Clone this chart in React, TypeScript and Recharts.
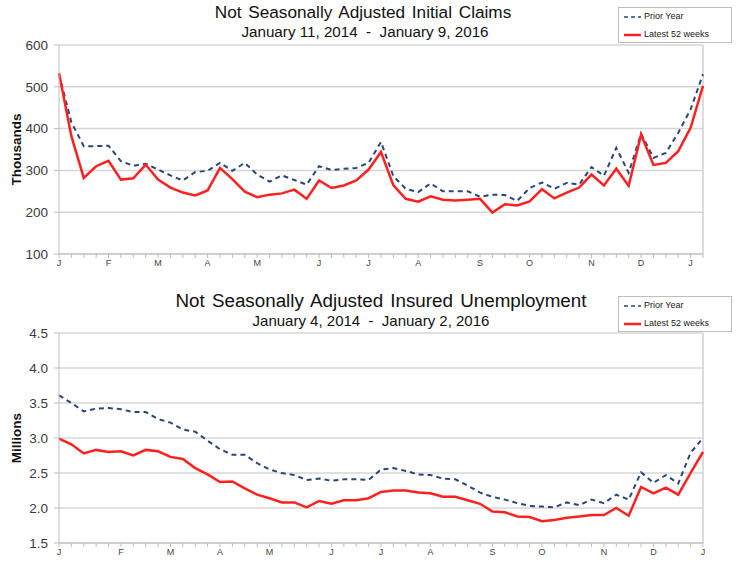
import React from 'react';
import { LineChart, Line, XAxis, YAxis, CartesianGrid, ReferenceLine } from 'recharts';

// weekly index 0..52 shared by both panels
const weeks = Array.from({ length: 53 }, (_, i) => i);

// Initial claims, thousands
const claimsLatest = [533, 382, 282, 310, 323, 278, 281, 314, 278, 259, 247, 240, 252, 306, 279, 249, 236, 242, 245, 254, 232, 276, 258, 264, 276, 302, 344, 264, 232, 225, 238, 230, 228, 230, 232, 199, 219, 216, 226, 255, 233, 247, 259, 290, 264, 304, 263, 386, 313, 318, 346, 402, 502];
const claimsPrior = [530, 415, 358, 358, 359, 322, 311, 316, 302, 288, 276, 296, 299, 318, 299, 318, 290, 273, 288, 277, 266, 310, 301, 304, 306, 318, 368, 286, 256, 248, 269, 250, 250, 250, 237, 242, 241, 227, 258, 271, 256, 270, 266, 308, 287, 354, 294, 388, 330, 342, 390, 446, 530];

// Insured unemployment, millions
const insuredLatest = [2.99, 2.91, 2.78, 2.83, 2.8, 2.81, 2.75, 2.83, 2.81, 2.73, 2.7, 2.57, 2.48, 2.37, 2.38, 2.28, 2.19, 2.14, 2.08, 2.08, 2.01, 2.1, 2.06, 2.11, 2.11, 2.14, 2.23, 2.25, 2.25, 2.22, 2.21, 2.16, 2.16, 2.11, 2.06, 1.95, 1.94, 1.88, 1.87, 1.81, 1.83, 1.86, 1.88, 1.9, 1.9, 2.0, 1.89, 2.3, 2.21, 2.29, 2.19, 2.5, 2.8];
const insuredPrior = [3.61, 3.5, 3.38, 3.42, 3.43, 3.41, 3.37, 3.37, 3.27, 3.22, 3.12, 3.09, 2.96, 2.84, 2.76, 2.76, 2.64, 2.55, 2.5, 2.47, 2.4, 2.42, 2.39, 2.41, 2.41, 2.4, 2.55, 2.57, 2.53, 2.48, 2.47, 2.42, 2.41, 2.32, 2.22, 2.16, 2.12, 2.07, 2.03, 2.02, 2.01, 2.08, 2.04, 2.12, 2.07, 2.19, 2.12, 2.51, 2.36, 2.47, 2.35, 2.79, 3.0];

// month letters by week index
const claimsMonths: Record<number, string> = { 0: 'J', 4: 'F', 8: 'M', 12: 'A', 16: 'M', 21: 'J', 25: 'J', 29: 'A', 34: 'S', 38: 'O', 43: 'N', 47: 'D', 51: 'J' };
const insuredMonths: Record<number, string> = { 0: 'J', 5: 'F', 9: 'M', 13: 'A', 17: 'M', 22: 'J', 26: 'J', 30: 'A', 35: 'S', 39: 'O', 44: 'N', 48: 'D', 52: 'J' };

const claimsTicks = [100, 200, 300, 400, 500, 600];
const insuredTicks = [1.5, 2.0, 2.5, 3.0, 3.5, 4.0, 4.5];

const claimsData = weeks.map((w) => ({ w, latest: claimsLatest[w], prior: claimsPrior[w] }));
const insuredData = weeks.map((w) => ({ w, latest: insuredLatest[w], prior: insuredPrior[w] }));

const FONT = '"Liberation Sans", Arial, sans-serif';
const RED = '#ff2020';
const NAVY = '#2a4677';

const LegendBox = ({ top }: { top: number }) => (
  <div
    style={{
      position: 'absolute',
      left: 618,
      top,
      width: 114,
      height: 36,
      border: '1px solid #bdbdbd',
      background: '#fff',
      fontFamily: FONT,
      fontSize: 9,
      color: '#222',
      boxSizing: 'border-box',
    }}
  >
    <svg width={20} height={36} style={{ position: 'absolute', left: 4, top: 0 }}>
      <line x1={1} y1={9} x2={18} y2={9} stroke={NAVY} strokeWidth={1.5} strokeDasharray="4 3" />
      <line x1={1} y1={27} x2={18} y2={27} stroke={RED} strokeWidth={2.5} />
    </svg>
    <div style={{ position: 'absolute', left: 25, top: 3 }}>Prior Year</div>
    <div style={{ position: 'absolute', left: 25, top: 21 }}>Latest 52 weeks</div>
  </div>
);

type TitleProps = { title: string; sub: string; top: number; subTop: number; cx: number; subCx: number; size: number; subSize: number };

const Titles = ({ title, sub, top, subTop, cx, subCx, size, subSize }: TitleProps) => (
  <>
    <div style={{ position: 'absolute', left: cx - 300, width: 600, top, textAlign: 'center', fontFamily: FONT, fontSize: size, wordSpacing: 2, color: '#111', lineHeight: 1 }}>
      {title}
    </div>
    <div style={{ position: 'absolute', left: subCx - 300, width: 600, top: subTop, textAlign: 'center', fontFamily: FONT, fontSize: subSize, color: '#111', whiteSpace: 'pre', lineHeight: 1 }}>
      {sub}
    </div>
  </>
);

type PanelProps = {
  data: { w: number; latest: number; prior: number }[];
  months: Record<number, string>;
  yTicks: number[];
  yDomain: [number, number];
  yFmt: (v: number) => string;
  yLabel: string;
  height: number;
  marginTop: number;
  marginBottom: number;
};

const Panel = ({ data, months, yTicks, yDomain, yFmt, yLabel, height, marginTop, marginBottom }: PanelProps) => (
  <LineChart width={736} height={height} data={data} margin={{ top: marginTop, right: 33, left: 0, bottom: marginBottom }}>
    <CartesianGrid vertical={false} stroke="#d6d6d6" strokeWidth={1.5} />
    <XAxis
      type="number"
      dataKey="w"
      domain={[0, 52]}
      ticks={weeks}
      interval={0}
      tickFormatter={(v: number) => months[v] || ''}
      tick={{ fontSize: 9, fill: '#444', fontFamily: FONT }}
      tickSize={4}
      stroke="#bdbdbd"
      height={20}
    />
    <YAxis
      domain={yDomain}
      ticks={yTicks}
      tickFormatter={yFmt}
      tick={{ fontSize: 13.5, fill: '#3a3a3a', fontFamily: FONT }}
      tickSize={5}
      tickMargin={6}
      stroke="#bdbdbd"
      width={59}
      label={{
        value: yLabel,
        angle: -90,
        position: 'insideLeft',
        offset: 16,
        style: { fontSize: 13.5, fontWeight: 'bold', fill: '#111', fontFamily: FONT, textAnchor: 'middle' },
      }}
    />
    <ReferenceLine x={52} stroke="#d0d0d0" strokeWidth={1.5} />
    <Line type="linear" dataKey="prior" stroke={NAVY} strokeWidth={2} strokeDasharray="5 4" dot={false} isAnimationActive={false} />
    <Line type="linear" dataKey="latest" stroke={RED} strokeWidth={2.5} dot={false} isAnimationActive={false} />
  </LineChart>
);

export default function App() {
  return (
    <div style={{ position: 'absolute', left: 0, top: 0, width: 736, height: 567, background: '#fff', overflow: 'hidden' }}>
      <div style={{ position: 'absolute', left: 0, top: 0 }}>
        <Panel
          data={claimsData}
          months={claimsMonths}
          yTicks={claimsTicks}
          yDomain={[100, 600]}
          yFmt={(v) => String(v)}
          yLabel="Thousands"
          height={280}
          marginTop={45}
          marginBottom={6}
        />
      </div>
      <div style={{ position: 'absolute', left: 0, top: 283 }}>
        <Panel
          data={insuredData}
          months={insuredMonths}
          yTicks={insuredTicks}
          yDomain={[1.5, 4.5]}
          yFmt={(v) => v.toFixed(1)}
          yLabel="Millions"
          height={284}
          marginTop={50}
          marginBottom={4}
        />
      </div>
      <Titles title="Not Seasonally Adjusted Initial Claims" sub={'January 11, 2014  -  January 9, 2016'} top={4} subTop={24} cx={363} subCx={365} size={17.2} subSize={15.2} />
      <Titles title="Not Seasonally Adjusted Insured Unemployment" sub={'January 4, 2014  -  January 2, 2016'} top={292} subTop={313} cx={381} subCx={371} size={18.8} subSize={15} />
      <LegendBox top={7} />
      <LegendBox top={296} />
    </div>
  );
}
